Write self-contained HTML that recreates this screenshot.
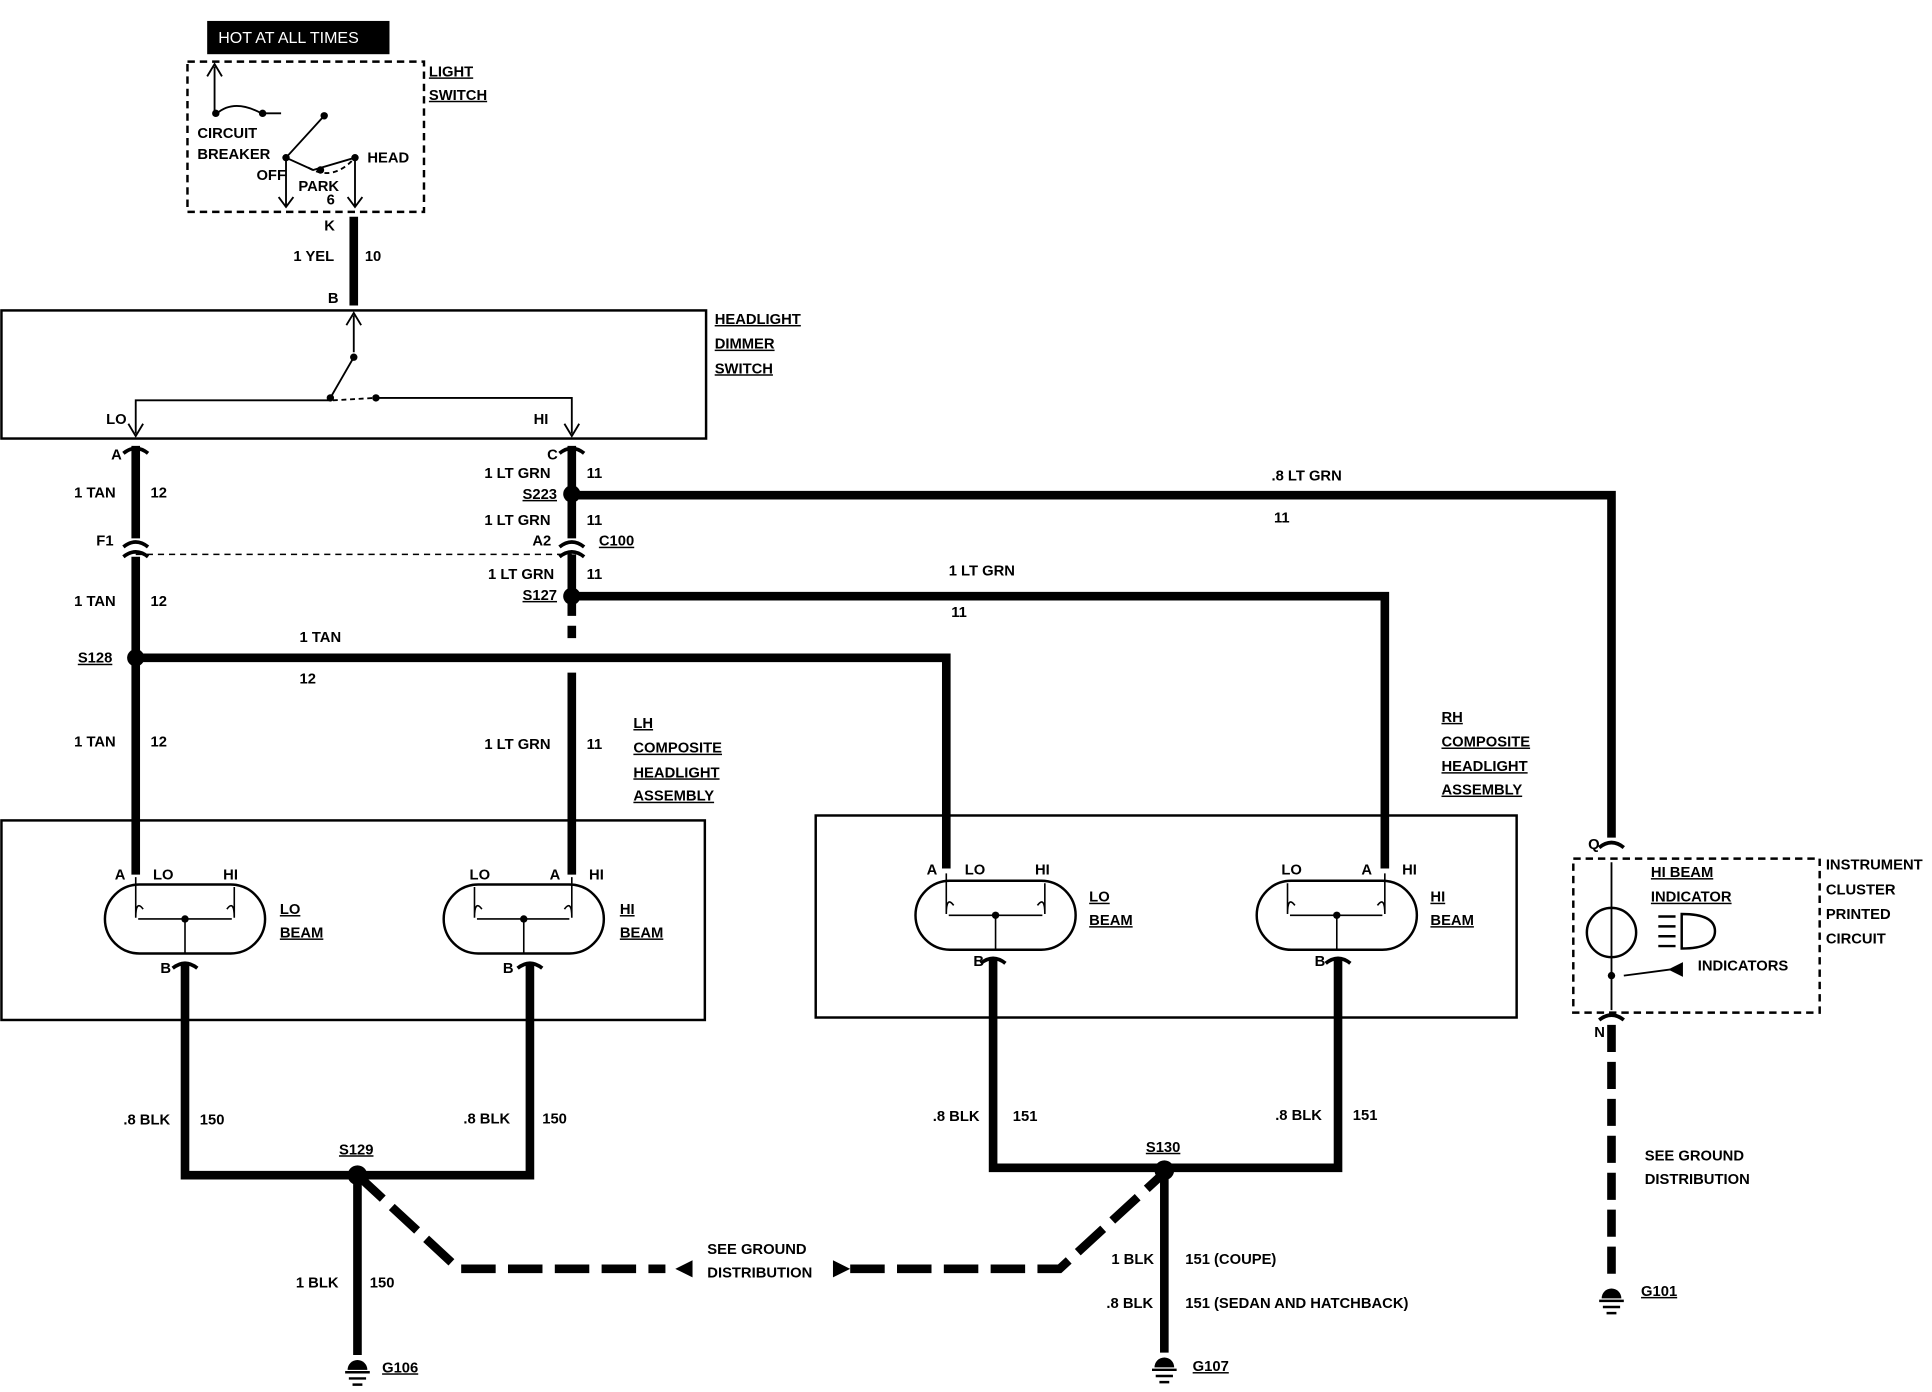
<!DOCTYPE html>
<html><head><meta charset="utf-8"><style>
html,body{margin:0;padding:0;background:#fff;}
svg{display:block}
text{font-family:"Liberation Sans",sans-serif;font-weight:bold;font-size:12px;fill:#000}
.u{text-decoration:underline}
</style></head><body>
<svg width="1932" height="1392" viewBox="0 0 1568 1130" xmlns="http://www.w3.org/2000/svg">
<g fill="none" stroke="#000">
<rect x="152" y="50" width="192" height="122" stroke-width="2" stroke-dasharray="6,4"/>
<g stroke-width="1.5">
<path d="M174 92 V54 M168 62 L174 52 L180 62"/>
<path d="M176 92 Q190 80 212 92 L228 92"/>
<path d="M263 94 L232 128 L254 138 L288 128"/>
<path d="M232 128 V168 M288 128 V168 M226 160 L232 168 L238 160 M282 160 L288 168 L294 160"/>
</g>
<path d="M250 136 Q270 148 288 128" stroke-dasharray="4,3" stroke-width="1.5"/>
<path d="M287 176 V248" stroke-width="7"/>
<rect x="1" y="252" width="572" height="104" stroke-width="2"/>
<g stroke-width="1.5">
<path d="M287 256 V286 M281 264 L287 254 L293 264"/>
<path d="M287 290 L268 323 M268 325 H110 V352 M305 323 H464 V352"/>
<path d="M104 344 L110 354 L116 344 M458 344 L464 354 L470 344"/>
</g>
<path d="M270 325 L305 323" stroke-dasharray="4,3" stroke-width="1.5"/>
<path d="M110 362 V437 M110 452 V710" stroke-width="7"/>
<path d="M464 362 V437 M464 450 V490 M464 546 V710" stroke-width="7"/>
<path d="M464 490 V520" stroke-width="7" stroke-dasharray="10,8"/>
<path d="M110 450 H464" stroke-dasharray="5,4" stroke-width="1.2"/>
<path d="M100 368 Q110 360 120 368 M100 444 Q110 436 120 444 M100 452 Q110 444 120 452 M454 368 Q464 360 474 368 M454 444 Q464 436 474 444 M454 452 Q464 444 474 452" stroke-width="3"/>
<path d="M464 402 H1308 V680" stroke-width="7"/>
<path d="M464 484 H1124 V705" stroke-width="7"/>
<path d="M110 534 H768 V705" stroke-width="7"/>
<rect x="1" y="666" width="571" height="162" stroke-width="2"/>
<rect x="662" y="662" width="569" height="164" stroke-width="2"/>
<g stroke-width="2">
<rect x="85" y="718" width="130" height="56" rx="28"/>
<rect x="360" y="718" width="130" height="56" rx="28"/>
<rect x="743" y="715" width="130" height="56" rx="28"/>
<rect x="1020" y="715" width="130" height="56" rx="28"/>
</g>
<g stroke-width="1.3">
<path d="M110 712 V745 M190 720 V745 M110 745 Q110 730 116 738 M190 745 Q190 730 184 738 M112 746 H188 M150 746 V774"/>
<path d="M385 720 V745 M464 712 V745 M385 745 Q385 730 391 738 M464 745 Q464 730 458 738 M387 746 H462 M425 746 V774"/>
<path d="M768 709 V742 M848 717 V742 M768 742 Q768 727 774 735 M848 742 Q848 727 842 735 M770 743 H846 M808 743 V771"/>
<path d="M1045 717 V742 M1124 709 V742 M1045 742 Q1045 727 1051 735 M1124 742 Q1124 727 1118 735 M1047 743 H1122 M1085 743 V771"/>
</g>
<path d="M150 782 V954 H430 V782" stroke-width="7"/>
<path d="M290 954 V1100" stroke-width="7"/>
<path d="M806 778 V948 H1086 V778" stroke-width="7"/>
<path d="M945 950 V1098" stroke-width="7"/>
<path d="M290 954 L372 1030 H540" stroke-width="7" stroke-dasharray="28,10"/>
<path d="M690 1030 H860 L945 952" stroke-width="7" stroke-dasharray="28,10"/>
<path d="M140 786 Q150 778 160 786 M420 786 Q430 778 440 786 M796 782 Q806 774 816 782 M1076 782 Q1086 774 1096 782" stroke-width="3"/>
<rect x="1277" y="697" width="200" height="125" stroke-width="2" stroke-dasharray="6,4"/>
<path d="M1298 688 Q1308 680 1318 688 M1298 828 Q1308 820 1318 828" stroke-width="3"/>
<path d="M1308 700 V820" stroke-width="1.5"/>
<circle cx="1308" cy="757" r="20" stroke-width="2"/>
<path d="M1318 792 L1356 787" stroke-width="1.5"/>
<path d="M1365 742 Q1392 742 1392 756 Q1392 770 1365 770 Z M1346 744 H1360 M1346 752 H1360 M1346 760 H1360 M1346 768 H1360" stroke-width="2"/>
<path d="M1308 832 V1040" stroke-width="7" stroke-dasharray="22,8"/>
</g>
<g fill="#000">
<circle cx="464" cy="401" r="7"/><circle cx="464" cy="484" r="7"/><circle cx="110" cy="534" r="7"/>
<circle cx="290" cy="954" r="8"/><circle cx="945" cy="950" r="8"/>
<circle cx="175" cy="92" r="3"/><circle cx="213" cy="92" r="3"/><circle cx="263" cy="94" r="3"/><circle cx="232" cy="128" r="3"/><circle cx="260" cy="138" r="3"/><circle cx="288" cy="128" r="3"/>
<circle cx="287" cy="290" r="3"/><circle cx="268" cy="323" r="3"/><circle cx="305" cy="323" r="3"/>
<circle cx="150" cy="746" r="3"/><circle cx="425" cy="746" r="3"/><circle cx="808" cy="743" r="3"/><circle cx="1085" cy="743" r="3"/>
<circle cx="1308" cy="792" r="3"/>
<path d="M548 1030 L562 1023 L562 1037 Z"/>
<path d="M676 1023 L690 1030 L676 1037 Z"/>
<path d="M1366 781 L1354 787 L1366 793 Z"/>
<rect x="168" y="17" width="148" height="27"/>
</g>
<g stroke="#000" stroke-width="2">
<path d="M280 1114 H300 M283 1119 H297 M286 1124 H294"/>
<path d="M935 1112 H955 M938 1117 H952 M941 1122 H949"/>
<path d="M1298 1056 H1318 M1301 1061 H1315 M1304 1066 H1312"/>
</g>
<g fill="#000"><path d="M282 1112 A8 8 0 0 1 298 1112 Z"/><path d="M937 1110 A8 8 0 0 1 953 1110 Z"/><path d="M1300 1054 A8 8 0 0 1 1316 1054 Z"/></g>
<text x="177" y="35" style="fill:#fff;font-weight:normal;font-size:13px">HOT AT ALL TIMES</text>
<text x="348" y="62" class="u">LIGHT</text><text x="348" y="81" class="u">SWITCH</text>
<text x="160" y="112">CIRCUIT</text><text x="160" y="129">BREAKER</text>
<text x="208" y="146">OFF</text><text x="242" y="155">PARK</text><text x="298" y="132">HEAD</text>
<text x="265" y="166">6</text><text x="263" y="187">K</text>
<text x="238" y="212">1 YEL</text><text x="296" y="212">10</text><text x="266" y="246">B</text>
<text x="580" y="263" class="u">HEADLIGHT</text><text x="580" y="283" class="u">DIMMER</text><text x="580" y="303" class="u">SWITCH</text>
<text x="86" y="344">LO</text><text x="433" y="344">HI</text>
<text x="90" y="373">A</text><text x="444" y="373">C</text>
<text x="60" y="404">1 TAN</text><text x="122" y="404">12</text>
<text x="393" y="388">1 LT GRN</text><text x="476" y="388">11</text><text x="424" y="405" class="u">S223</text>
<text x="393" y="426">1 LT GRN</text><text x="476" y="426">11</text>
<text x="78" y="443">F1</text><text x="432" y="443">A2</text><text x="486" y="443" class="u">C100</text>
<text x="396" y="470">1 LT GRN</text><text x="476" y="470">11</text><text x="424" y="487" class="u">S127</text>
<text x="60" y="492">1 TAN</text><text x="122" y="492">12</text>
<text x="63" y="538" class="u">S128</text>
<text x="243" y="521">1 TAN</text><text x="243" y="555">12</text>
<text x="1032" y="390">.8 LT GRN</text><text x="1034" y="424">11</text>
<text x="770" y="467">1 LT GRN</text><text x="772" y="501">11</text>
<text x="60" y="606">1 TAN</text><text x="122" y="606">12</text>
<text x="393" y="608">1 LT GRN</text><text x="476" y="608">11</text>
<text x="514" y="591" class="u">LH</text><text x="514" y="611" class="u">COMPOSITE</text><text x="514" y="631" class="u">HEADLIGHT</text><text x="514" y="650" class="u">ASSEMBLY</text>
<text x="1170" y="586" class="u">RH</text><text x="1170" y="606" class="u">COMPOSITE</text><text x="1170" y="626" class="u">HEADLIGHT</text><text x="1170" y="645" class="u">ASSEMBLY</text>
<text x="93" y="714">A</text><text x="124" y="714">LO</text><text x="181" y="714">HI</text>
<text x="381" y="714">LO</text><text x="446" y="714">A</text><text x="478" y="714">HI</text>
<text x="752" y="710">A</text><text x="783" y="710">LO</text><text x="840" y="710">HI</text>
<text x="1040" y="710">LO</text><text x="1105" y="710">A</text><text x="1138" y="710">HI</text>
<text x="227" y="742" class="u">LO</text><text x="227" y="761" class="u">BEAM</text>
<text x="503" y="742" class="u">HI</text><text x="503" y="761" class="u">BEAM</text>
<text x="884" y="732" class="u">LO</text><text x="884" y="751" class="u">BEAM</text>
<text x="1161" y="732" class="u">HI</text><text x="1161" y="751" class="u">BEAM</text>
<text x="130" y="790">B</text><text x="408" y="790">B</text><text x="790" y="784">B</text><text x="1067" y="784">B</text>
<text x="100" y="913">.8 BLK</text><text x="162" y="913">150</text>
<text x="376" y="912">.8 BLK</text><text x="440" y="912">150</text>
<text x="757" y="910">.8 BLK</text><text x="822" y="910">151</text>
<text x="1035" y="909">.8 BLK</text><text x="1098" y="909">151</text>
<text x="275" y="937" class="u">S129</text><text x="930" y="935" class="u">S130</text>
<text x="574" y="1018">SEE GROUND</text><text x="574" y="1037">DISTRIBUTION</text>
<text x="240" y="1045">1 BLK</text><text x="300" y="1045">150</text>
<text x="902" y="1026">1 BLK</text><text x="962" y="1026">151 (COUPE)</text>
<text x="898" y="1062">.8 BLK</text><text x="962" y="1062">151 (SEDAN AND HATCHBACK)</text>
<text x="310" y="1114" class="u">G106</text><text x="968" y="1113" class="u">G107</text><text x="1332" y="1052" class="u">G101</text>
<text x="1289" y="689">Q</text><text x="1294" y="842">N</text>
<text x="1340" y="712" class="u">HI BEAM</text><text x="1340" y="732" class="u">INDICATOR</text>
<text x="1378" y="788">INDICATORS</text>
<text x="1482" y="706">INSTRUMENT</text><text x="1482" y="726">CLUSTER</text><text x="1482" y="746">PRINTED</text><text x="1482" y="766">CIRCUIT</text>
<text x="1335" y="942">SEE GROUND</text><text x="1335" y="961">DISTRIBUTION</text>
</svg>
</body></html>
